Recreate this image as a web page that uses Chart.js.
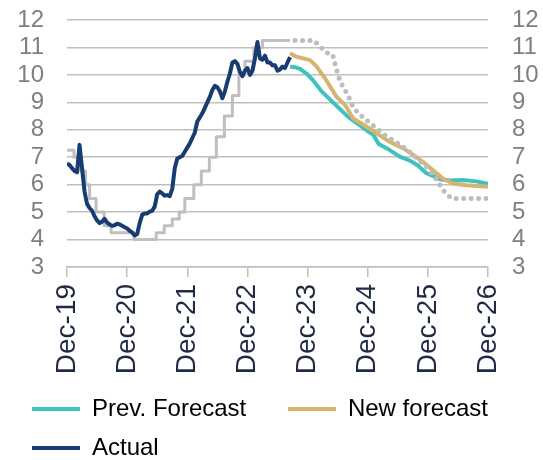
<!DOCTYPE html>
<html>
<head>
<meta charset="utf-8">
<title>Policy rate forecast</title>
<script src="https://cdn.jsdelivr.net/npm/chart.js"></script>
<style>
  html, body { margin: 0; padding: 0; background: #fff; }
  #wrap { position: relative; width: 543px; height: 460px; }
</style>
</head>
<body>
<div id="wrap"><canvas id="myChart"></canvas></div>
<script>
// x axis runs in months from Dec-19 (0) to Dec-26 (84)
const tickLabels = ['Dec-19', 'Dec-20', 'Dec-21', 'Dec-22', 'Dec-23', 'Dec-24', 'Dec-25', 'Dec-26'];
const legendLabels = ['Prev. Forecast', 'New forecast', 'Actual'];

// actual market rate, one reading every half month starting Dec-19
const actualStep = 0.5;
const actualValues = [
    6.77, 6.72, 6.60, 6.50, 6.45, 7.45, 6.60, 5.75, 5.30, 5.15,
    5.05, 4.85, 4.70, 4.60, 4.65, 4.75, 4.62, 4.55, 4.50, 4.52,
    4.58, 4.55, 4.50, 4.45, 4.40, 4.32, 4.26, 4.15, 4.20, 4.60,
    4.90, 4.95, 4.95, 5.02, 5.05, 5.20, 5.65, 5.75, 5.68, 5.60,
    5.62, 5.58, 5.85, 6.60, 6.95, 7.00, 7.05, 7.20, 7.35, 7.50,
    7.70, 7.90, 8.30, 8.45, 8.60, 8.80, 9.00, 9.20, 9.45, 9.60,
    9.55, 9.40, 9.15, 9.40, 9.75, 10.05, 10.45, 10.50, 10.40, 10.10,
    9.95, 10.15, 10.25, 10.00, 10.15, 10.60, 11.20, 10.60, 10.55, 10.70,
    10.45, 10.45, 10.35, 10.35, 10.15, 10.20, 10.30, 10.25, 10.45, 10.65
];

// policy rate decisions (month of change, new rate)
const policyMonths = [0, 1.4, 2.7, 3.7, 4.5, 5.8, 7.4, 8.8, 13.4, 17.8, 19.4, 21.0, 22.4, 23.5, 25.3, 26.8, 28.4, 29.8, 31.4, 33.0, 34.3, 35.5, 37.3, 39.0, 44.5];
const policyRates = [7.25, 7.00, 6.50, 6.00, 5.50, 5.00, 4.50, 4.25, 4.00, 4.25, 4.50, 4.75, 5.00, 5.50, 6.00, 6.50, 7.00, 7.75, 8.50, 9.25, 10.00, 10.50, 11.00, 11.25, 11.25];

// expected policy path (dotted)
const pathMonths = [45.5, 49.3, 50.1, 51.8, 53.0, 53.7, 54.5, 56.1, 57.1, 58.8, 61.1, 63.4, 66.1, 68.7, 71.7, 73.7, 75.0, 76.7, 84];
const pathRates = [11.25, 11.25, 11.10, 10.80, 10.75, 10.25, 9.75, 9.25, 8.80, 8.50, 8.15, 7.80, 7.50, 7.15, 6.65, 6.20, 5.80, 5.50, 5.50];

// previous forecast
const prevMonths = [44.5, 45.5, 46.5, 47.8, 49.1, 50.8, 52.5, 54.5, 56.2, 58.4, 60.0, 61.1, 62.2, 64.4, 66.4, 68.4, 70.0, 71.7, 73.0, 74.4, 76.4, 79.0, 81.7, 84];
const prevValues = [10.30, 10.28, 10.22, 10.05, 9.80, 9.40, 9.10, 8.75, 8.45, 8.17, 7.95, 7.82, 7.48, 7.26, 7.02, 6.88, 6.70, 6.42, 6.32, 6.20, 6.15, 6.17, 6.12, 6.03];

// new forecast
const newMonths = [44.5, 45.8, 48.5, 49.8, 51.5, 53.8, 55.5, 57.1, 59.8, 61.8, 64.4, 67.1, 69.1, 71.0, 73.0, 75.0, 77.0, 79.7, 84];
const newValues = [10.79, 10.66, 10.54, 10.30, 9.87, 9.20, 8.90, 8.41, 8.11, 7.87, 7.56, 7.32, 7.08, 6.83, 6.53, 6.22, 6.04, 5.98, 5.92];

const fontFamily = 'Liberation Sans, Arial, sans-serif';
const gridColor = '#BFBFBF';
const textDark = '#1F2A44';

function toPoints(xs, ys) {
    return xs.map((x, i) => ({ x: x, y: ys[i] }));
}

// fixed-width value axes; labels may overhang the plot edges
function fitValueAxis(width) {
    return (scale) => {
        scale.width = width;
        scale.paddingTop = 0;
        scale.paddingBottom = 0;
    };
}

const actualPoints = actualValues.map((v, i) => ({ x: i * actualStep, y: v }));

Chart.defaults.font.family = fontFamily;

const ctx = document.getElementById('myChart').getContext('2d');

const myChart = new Chart(ctx, {
    type: 'line',
    data: {
        datasets: [{
            label: legendLabels[0],
            data: toPoints(prevMonths, prevValues),
            borderColor: '#3FC1C0',
            borderWidth: 4,
            order: 3
        }, {
            label: legendLabels[1],
            data: toPoints(newMonths, newValues),
            borderColor: '#D5B56D',
            borderWidth: 4,
            order: 2
        }, {
            label: legendLabels[2],
            data: actualPoints,
            borderColor: '#173C72',
            borderWidth: 4,
            order: 4
        }, {
            label: 'Policy rate',
            data: toPoints(policyMonths, policyRates),
            borderColor: '#BFBFBF',
            borderWidth: 3,
            stepped: true,
            order: 5
        }, {
            label: 'Policy path',
            data: toPoints(pathMonths, pathRates),
            borderColor: '#BDBDBD',
            borderWidth: 5,
            borderDash: [0, 7.5],
            borderCapStyle: 'round',
            order: 1
        }]
    },
    options: {
        responsive: true,
        maintainAspectRatio: false,
        animation: false,
        layout: {
            padding: { left: 17, right: 0, top: 20, bottom: -10 }
        },
        elements: {
            point: { radius: 0 },
            line: { tension: 0, fill: false, borderJoinStyle: 'round' }
        },
        plugins: {
            tooltip: { enabled: false },
            legend: {
                position: 'bottom',
                align: 'start',
                labels: {
                    boxWidth: 48,
                    boxHeight: 4,
                    padding: 15,
                    color: textDark,
                    font: { size: 24 },
                    // only the three named lines, drawn as short bars
                    generateLabels: (chart) => chart.data.datasets.slice(0, 3).map((ds, i) => ({
                        text: i === 0 ? ds.label + '    ' : ds.label,
                        fillStyle: ds.borderColor,
                        strokeStyle: ds.borderColor,
                        lineWidth: 0,
                        hidden: false,
                        datasetIndex: i
                    }))
                }
            }
        },
        scales: {
            x: {
                type: 'linear',
                min: 0,
                max: 84,
                afterFit: (scale) => { scale.height = 115; },
                ticks: {
                    stepSize: 12,
                    autoSkip: false,
                    minRotation: 90,
                    maxRotation: 90,
                    padding: 7,
                    color: textDark,
                    font: { size: 28 },
                    callback: (value) => tickLabels[value / 12]
                },
                grid: {
                    drawOnChartArea: false,
                    drawTicks: true,
                    tickLength: 10,
                    color: gridColor,
                    lineWidth: 1.5
                },
                border: { color: gridColor, width: 1.5 }
            },
            y: {
                position: 'left',
                min: 3,
                max: 12,
                afterFit: fitValueAxis(50),
                ticks: {
                    stepSize: 1,
                    autoSkip: false,
                    padding: 23,
                    color: '#7F7F7F',
                    font: { size: 24 }
                },
                grid: { color: gridColor, lineWidth: 1.5, drawTicks: false },
                border: { display: false }
            },
            y2: {
                position: 'right',
                min: 3,
                max: 12,
                afterFit: fitValueAxis(55),
                ticks: {
                    stepSize: 1,
                    autoSkip: false,
                    padding: 24,
                    color: '#7F7F7F',
                    font: { size: 24 }
                },
                grid: { display: false, drawTicks: false },
                border: { display: false }
            }
        }
    }
});
</script>
</body>
</html>
